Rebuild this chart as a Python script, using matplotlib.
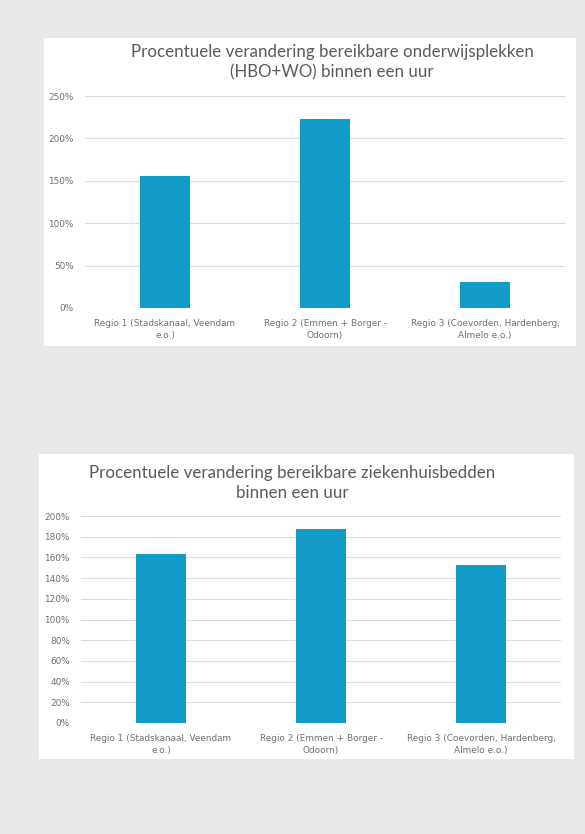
import matplotlib
matplotlib.use("Agg")
import matplotlib.pyplot as plt
from matplotlib.patches import Rectangle
from matplotlib.ticker import FuncFormatter

# data
regions_top = ["Regio 1 (Stadskanaal, Veendam\ne.o.)",
               "Regio 2 (Emmen + Borger -\nOdoorn)",
               "Regio 3 (Coevorden, Hardenberg,\nAlmelo e.o.)"]
onderwijs_pct = [156, 223, 31]

regions_bottom = ["Regio 1 (Stadskanaal, Veendam\ne.o.)",
                  "Regio 2 (Emmen + Borger -\nOdoorn)",
                  "Regio 3 (Coevorden, Hardenberg,\nAlmelo e.o.)"]
ziekenhuis_pct = [163, 187, 153]

title_top = "Procentuele verandering bereikbare onderwijsplekken\n(HBO+WO) binnen een uur"
title_bottom = "Procentuele verandering bereikbare ziekenhuisbedden\nbinnen een uur"

W, H = 585, 834
bg = "#e8e9eb"
bar_color = "#139bc7"
grid_color = "#dcdcdc"
text_color = "#5a5a5a"
tick_color = "#707070"

fig = plt.figure(figsize=(W / 100, H / 100), dpi=100, facecolor=bg)


def box(x0, y0, x1, y1):
    # pixel box (top-left origin) -> figure fraction rect
    return [x0 / W, 1 - y1 / H, (x1 - x0) / W, (y1 - y0) / H]


def panel(x0, y0, x1, y1):
    r = box(x0, y0, x1, y1)
    fig.patches.append(Rectangle((r[0], r[1]), r[2], r[3], transform=fig.transFigure,
                                 facecolor="white", edgecolor="none", zorder=-5))


def bar_chart(rect, labels, values, ymax, step, title, title_xy):
    ax = fig.add_axes(rect)
    ax.set_facecolor("none")
    ax.bar(range(len(values)), [v / 100 for v in values], width=0.31, color=bar_color, zorder=3)
    ax.set_xlim(-0.5, len(values) - 0.5)
    ax.set_ylim(0, ymax)
    ticks = [i * step for i in range(int(round(ymax / step)) + 1)]
    ax.set_yticks(ticks)
    ax.yaxis.set_major_formatter(FuncFormatter(lambda v, p: f"{v * 100:.0f}%"))
    ax.set_xticks(range(len(values)))
    ax.set_xticklabels(labels, fontsize=6.4, color=tick_color, family="DejaVu Sans",
                       linespacing=1.35)
    for t in ax.get_yticklabels():
        t.set_fontsize(6.4)
        t.set_color(tick_color)
        t.set_family("DejaVu Sans")
    ax.tick_params(axis="x", length=0, pad=8)
    ax.tick_params(axis="y", length=0, pad=8)
    ax.grid(axis="y", color=grid_color, linewidth=0.8, zorder=0)
    for s in ax.spines.values():
        s.set_visible(False)
    fig.text(title_xy[0] / W, 1 - title_xy[1] / H, title, ha="center", va="center",
             fontsize=12.2, color=text_color, family="Lato", linespacing=1.3)
    return ax


panel(44, 38, 576, 346)
bar_chart(box(85, 96, 565, 308), regions_top, onderwijs_pct, 2.5, 0.5, title_top, (332, 62))

panel(39, 454, 574, 759)
bar_chart(box(81, 516, 561, 723), regions_bottom, ziekenhuis_pct, 2.0, 0.2, title_bottom, (292, 483))

fig.savefig("out.png", dpi=100, facecolor=bg)
